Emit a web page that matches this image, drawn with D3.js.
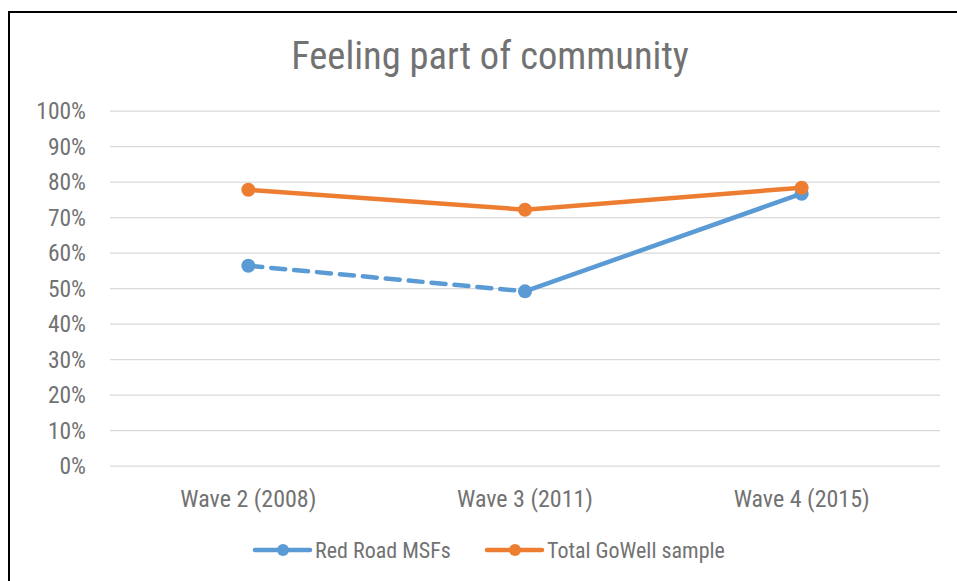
<!DOCTYPE html>
<html>
<head>
<meta charset="utf-8">
<script src="https://cdn.jsdelivr.net/npm/d3@7"></script>
<style>
  html, body { margin: 0; padding: 0; background: #fff; }
  svg { display: block; }
  text { font-family: "Liberation Sans Narrow", "Roboto Condensed", "Liberation Sans", sans-serif; fill: #727272; }
</style>
</head>
<body>
<svg id="chart" width="957" height="581"></svg>
<script>
const title = "Feeling part of community";
const categories = ["Wave 2 (2008)", "Wave 3 (2011)", "Wave 4 (2015)"];
const seriesNames = ["Red Road MSFs", "Total GoWell sample"];
const redRoad = [0.564, 0.492, 0.767];
const totalGoWell = [0.778, 0.722, 0.784];
const yTicks = [0, 0.1, 0.2, 0.3, 0.4, 0.5, 0.6, 0.7, 0.8, 0.9, 1.0];
const colors = ["#5B9BD5", "#ED7D31"];

const svg = d3.select("#chart");
svg.append("rect").attr("x", 0).attr("y", 0).attr("width", 957).attr("height", 581).attr("fill", "#fff");

// outer border (cropped chart area)
svg.append("path")
  .attr("d", "M9,581 L9,12 L957,12")
  .attr("fill", "none").attr("stroke", "#000").attr("stroke-width", 2);

const plot = { left: 110, right: 940, top: 111, bottom: 466 };

const x = d3.scaleBand().domain(categories).range([plot.left, plot.right]).padding(0);
const y = d3.scaleLinear().domain([0, 1]).range([plot.bottom, plot.top]);
const cx = c => x(c) + x.bandwidth() / 2;

// title
svg.append("text").attr("x", 490).attr("y", 69).attr("text-anchor", "middle")
  .style("font-size", "38.5px").text(title);

// gridlines
svg.append("g").selectAll("line").data(yTicks).join("line")
  .attr("x1", plot.left).attr("x2", plot.right)
  .attr("y1", d => y(d)).attr("y2", d => y(d))
  .attr("stroke", "#D9D9D9").attr("stroke-width", 1.25);

// y axis
const yAxis = svg.append("g").attr("transform", `translate(${plot.left},0)`)
  .call(d3.axisLeft(y).tickValues(yTicks).tickFormat(d3.format(".0%")).tickSize(0).tickPadding(24));
yAxis.select(".domain").remove();
yAxis.selectAll("text").style("font-size", "23.5px").attr("fill", "#727272").style("font-family", null);

// x axis
const xAxis = svg.append("g").attr("transform", `translate(0,${plot.bottom})`)
  .call(d3.axisBottom(x).tickSize(0).tickPadding(24));
xAxis.select(".domain").remove();
xAxis.selectAll("text").style("font-size", "24px").attr("fill", "#727272").style("font-family", null);

// lines
const lineW = 4.5;
const red = categories.map((c, i) => ({ c, v: redRoad[i] }));
const tot = categories.map((c, i) => ({ c, v: totalGoWell[i] }));
const line = d3.line().x(d => cx(d.c)).y(d => y(d.v));

// red road: first segment dashed, rest solid
svg.append("path").datum(red.slice(0, 2)).attr("d", line)
  .attr("fill", "none").attr("stroke", colors[0]).attr("stroke-width", lineW)
  .attr("stroke-dasharray", "14,9").attr("stroke-linecap", "round");
svg.append("path").datum(red.slice(1)).attr("d", line)
  .attr("fill", "none").attr("stroke", colors[0]).attr("stroke-width", lineW)
  .attr("stroke-linejoin", "round").attr("stroke-linecap", "round");
svg.append("g").selectAll("circle").data(red).join("circle")
  .attr("cx", d => cx(d.c)).attr("cy", d => y(d.v)).attr("r", 7).attr("fill", colors[0]);

svg.append("path").datum(tot).attr("d", line)
  .attr("fill", "none").attr("stroke", colors[1]).attr("stroke-width", lineW)
  .attr("stroke-linejoin", "round").attr("stroke-linecap", "round");
svg.append("g").selectAll("circle").data(tot).join("circle")
  .attr("cx", d => cx(d.c)).attr("cy", d => y(d.v)).attr("r", 7).attr("fill", colors[1]);

// legend
const legendItems = [{ name: seriesNames[0], color: colors[0], x: 255 }, { name: seriesNames[1], color: colors[1], x: 487 }];
const lg = svg.append("g").attr("transform", "translate(0,550)");
legendItems.forEach(it => {
  lg.append("line").attr("x1", it.x).attr("x2", it.x + 55).attr("y1", 0).attr("y2", 0)
    .attr("stroke", it.color).attr("stroke-width", lineW).attr("stroke-linecap", "round");
  lg.append("circle").attr("cx", it.x + 28).attr("cy", 0).attr("r", 6).attr("fill", it.color);
  lg.append("text").attr("x", it.x + 60).attr("y", 7.5).style("font-size", "22px").text(it.name);
});
</script>
</body>
</html>
